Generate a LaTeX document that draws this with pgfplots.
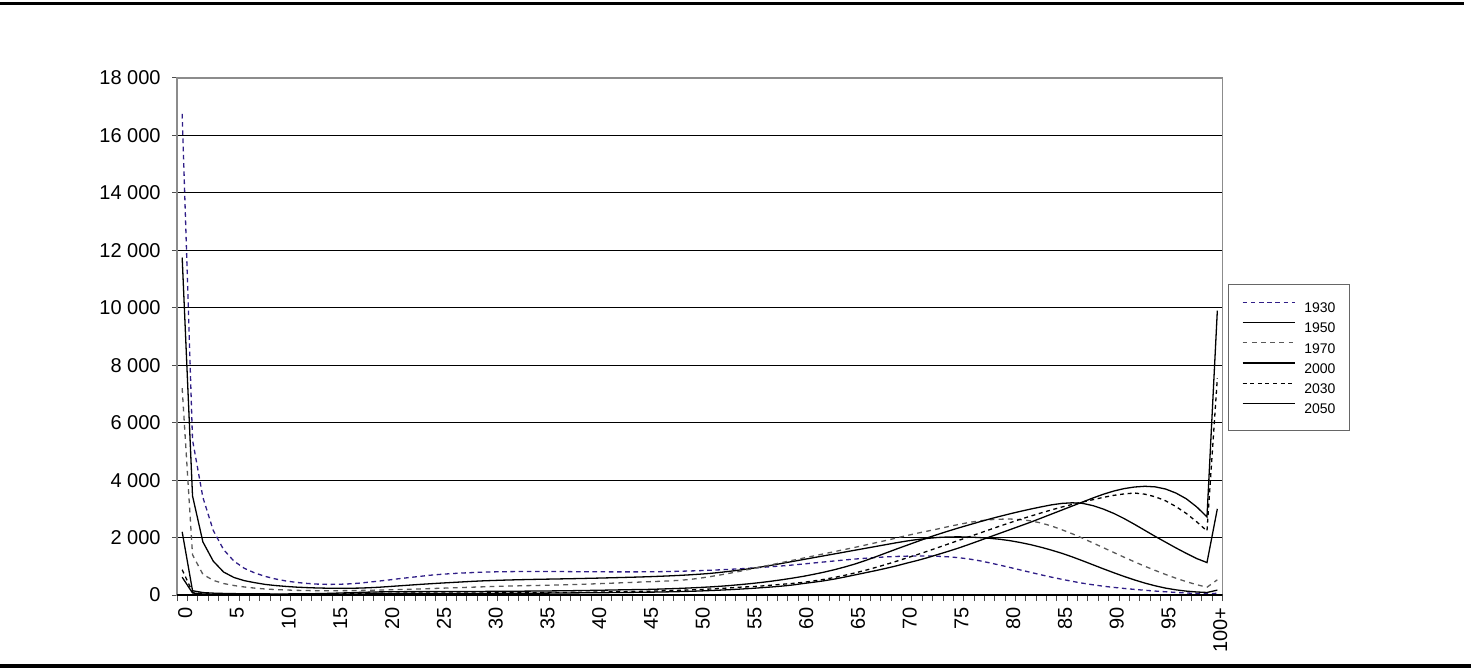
\documentclass[border=0pt]{standalone}
\usepackage{pgfplots}
\pgfplotsset{compat=1.18}
\usepackage{pgfplotstable}
\usepackage{fontspec}
\setmainfont{Liberation Sans}
\definecolor{c1930}{RGB}{48,30,135}
\pgfplotstableread{
age a1930 a1950 a1970 a2000 a2030 a2050
0 16750 11750 7200 2200 880 620
1 5400 3450 1400 150 100 70
2 3400 1850 720 85 45 35
3 2250 1180 510 65 33 25
4 1580 800 400 55 27 20
5 1180 610 330 48 24 18
6 930 500 280 44 22 16
7 770 430 240 41 20 15
8 650 370 210 39 19 14
9 560 330 190 38 19 14
10 490 300 175 38 19 14
11 440 275 163 40 20 15
12 405 258 155 43 22 16
13 380 245 150 48 25 18
14 370 237 148 56 30 21
15 372 233 150 66 36 25
16 385 234 153 78 43 30
17 410 240 158 90 50 35
18 445 252 165 100 56 40
19 485 270 172 108 60 43
20 525 295 180 113 63 45
21 570 320 190 116 65 46
22 610 345 200 118 66 47
23 650 370 212 119 67 48
24 690 393 224 120 68 49
25 720 415 236 121 69 50
26 745 435 248 122 70 51
27 765 455 260 123 71 52
28 780 475 272 124 72 53
29 795 492 284 125 73 54
30 805 505 296 127 74 55
31 810 517 306 129 76 57
32 815 527 315 131 78 59
33 818 536 323 134 80 61
34 820 544 331 137 82 63
35 820 551 338 140 84 65
36 818 557 346 144 87 68
37 815 564 355 148 90 71
38 812 571 366 153 94 74
39 810 579 378 158 98 77
40 808 587 391 164 102 80
41 806 596 405 170 107 83
42 805 605 419 177 112 86
43 805 615 433 184 118 90
44 806 625 447 190 124 94
45 808 636 462 195 131 98
46 812 650 475 205 140 103
47 818 665 490 217 150 110
48 826 682 510 230 162 118
49 836 702 540 245 175 128
50 848 725 585 262 190 140
51 862 752 640 282 208 155
52 878 788 700 305 228 170
53 896 830 765 333 250 188
54 916 875 835 365 275 208
55 938 925 910 400 290 230
56 962 980 985 440 315 255
57 988 1040 1060 485 345 282
58 1015 1105 1135 535 375 312
59 1045 1170 1210 590 405 350
60 1080 1235 1285 650 440 400
61 1115 1300 1360 720 490 445
62 1150 1365 1435 795 545 495
63 1185 1430 1510 880 610 555
64 1220 1495 1585 975 685 625
65 1252 1560 1660 1080 770 700
66 1280 1625 1740 1200 860 775
67 1305 1690 1820 1330 960 850
68 1327 1755 1900 1465 1065 930
69 1343 1820 1985 1600 1175 1015
70 1353 1880 2070 1730 1290 1110
71 1358 1930 2150 1860 1405 1200
72 1357 1972 2225 1990 1525 1300
73 1348 2003 2300 2110 1650 1410
74 1330 2020 2380 2225 1775 1520
75 1300 2025 2455 2335 1900 1635
76 1255 2018 2525 2440 2025 1760
77 1195 2000 2580 2545 2150 1890
78 1120 1975 2620 2645 2275 2020
79 1040 1940 2640 2740 2400 2150
80 955 1890 2645 2830 2520 2280
81 870 1825 2625 2915 2640 2410
82 785 1750 2580 2995 2750 2540
83 700 1660 2505 3070 2860 2680
84 620 1560 2400 3140 2965 2820
85 545 1450 2270 3190 3065 2960
86 475 1325 2130 3210 3155 3100
87 410 1190 1975 3190 3240 3240
88 355 1050 1810 3110 3320 3380
89 305 910 1645 2990 3400 3510
90 265 775 1480 2840 3470 3620
91 228 645 1315 2660 3520 3705
92 195 525 1155 2460 3550 3760
93 165 415 1000 2250 3510 3785
94 137 320 855 2040 3420 3765
95 112 240 715 1840 3280 3690
96 90 180 585 1640 3080 3550
97 70 135 465 1450 2840 3350
98 55 105 360 1270 2550 3070
99 40 88 270 1130 2230 2720
100 60 170 530 3000 7550 9900
}\datatable
\begin{document}
\begin{tikzpicture}
\path[use as bounding box] (0,0) rectangle (735.5pt,335.5pt);
\draw[line width=1.5pt] (0,333.8pt) -- (732pt,333.8pt);
\draw[line width=2pt] (0,2.5pt) -- (735.5pt,2.5pt);
\begin{axis}[
  at={(88.5pt,38pt)}, anchor=south west,
  scale only axis,
  width=522.75pt, height=258.5pt,
  xmin=-0.5, xmax=100.5,
  ymin=0, ymax=18000,
  scaled y ticks=false,
  tick pos=left,
  axis line style={draw=black!45, line width=0.7pt},
  ytick={0,2000,...,18000},
  yticklabels={0,2 000,4 000,6 000,8 000,10 000,12 000,14 000,16 000,18 000},
  xtick={0,5,...,100},
  xticklabels={0,5,10,15,20,25,30,35,40,45,50,55,60,65,70,75,80,85,90,95,100+},
  minor xtick={-0.5,0.5,...,100.5},
  tick align=outside,
  major tick length=2.5pt,
  minor tick length=3pt,
  major x tick style={draw=none},
  tick style={black!70, line width=0.5pt},
  ymajorgrids,
  major grid style={black, line width=0.5pt},
  yticklabel style={font=\fontsize{10}{12}\selectfont, inner sep=0pt, xshift=-5.5pt, anchor=east},
  xticklabel style={font=\fontsize{10}{12}\selectfont, rotate=90, anchor=east, inner sep=0pt, xshift=-3.5pt, yshift=-1.5pt},
  legend style={at={(rel axis cs:1,0.6015)}, anchor=north west, xshift=2.5pt,
    draw=black!60, line width=0.5pt, inner xsep=7pt, inner ysep=8.5pt,
    font=\fontsize{7}{8}\selectfont, row sep=4.6pt,
    nodes={inner sep=0pt, text height=5.2pt, text depth=0pt, anchor=west}},
  legend cell align=left,
  legend image code/.code={\draw[#1] (0pt,2.6pt) -- (26pt,2.6pt);},
  every axis plot/.append style={line width=0.65pt},
  legend style={column sep=4.5pt},
]
\addplot[c1930, dash pattern=on 2.3pt off 1.8pt] table[x=age,y=a1930] {\datatable};
\addlegendentry{1930}
\addplot[black] table[x=age,y=a1950] {\datatable};
\addlegendentry{1950}
\addplot[black!65, dash pattern=on 2.4pt off 2.2pt] table[x=age,y=a1970] {\datatable};
\addlegendentry{1970}
\addplot[black] table[x=age,y=a2000] {\datatable};
\addlegendentry{2000}
\addplot[black, dash pattern=on 2pt off 1.8pt] table[x=age,y=a2030] {\datatable};
\addlegendentry{2030}
\addplot[black] table[x=age,y=a2050] {\datatable};
\addlegendentry{2050}
\draw[black, line width=0.8pt] (rel axis cs:0,0) -- (rel axis cs:1,0);
\end{axis}
\end{tikzpicture}
\end{document}
